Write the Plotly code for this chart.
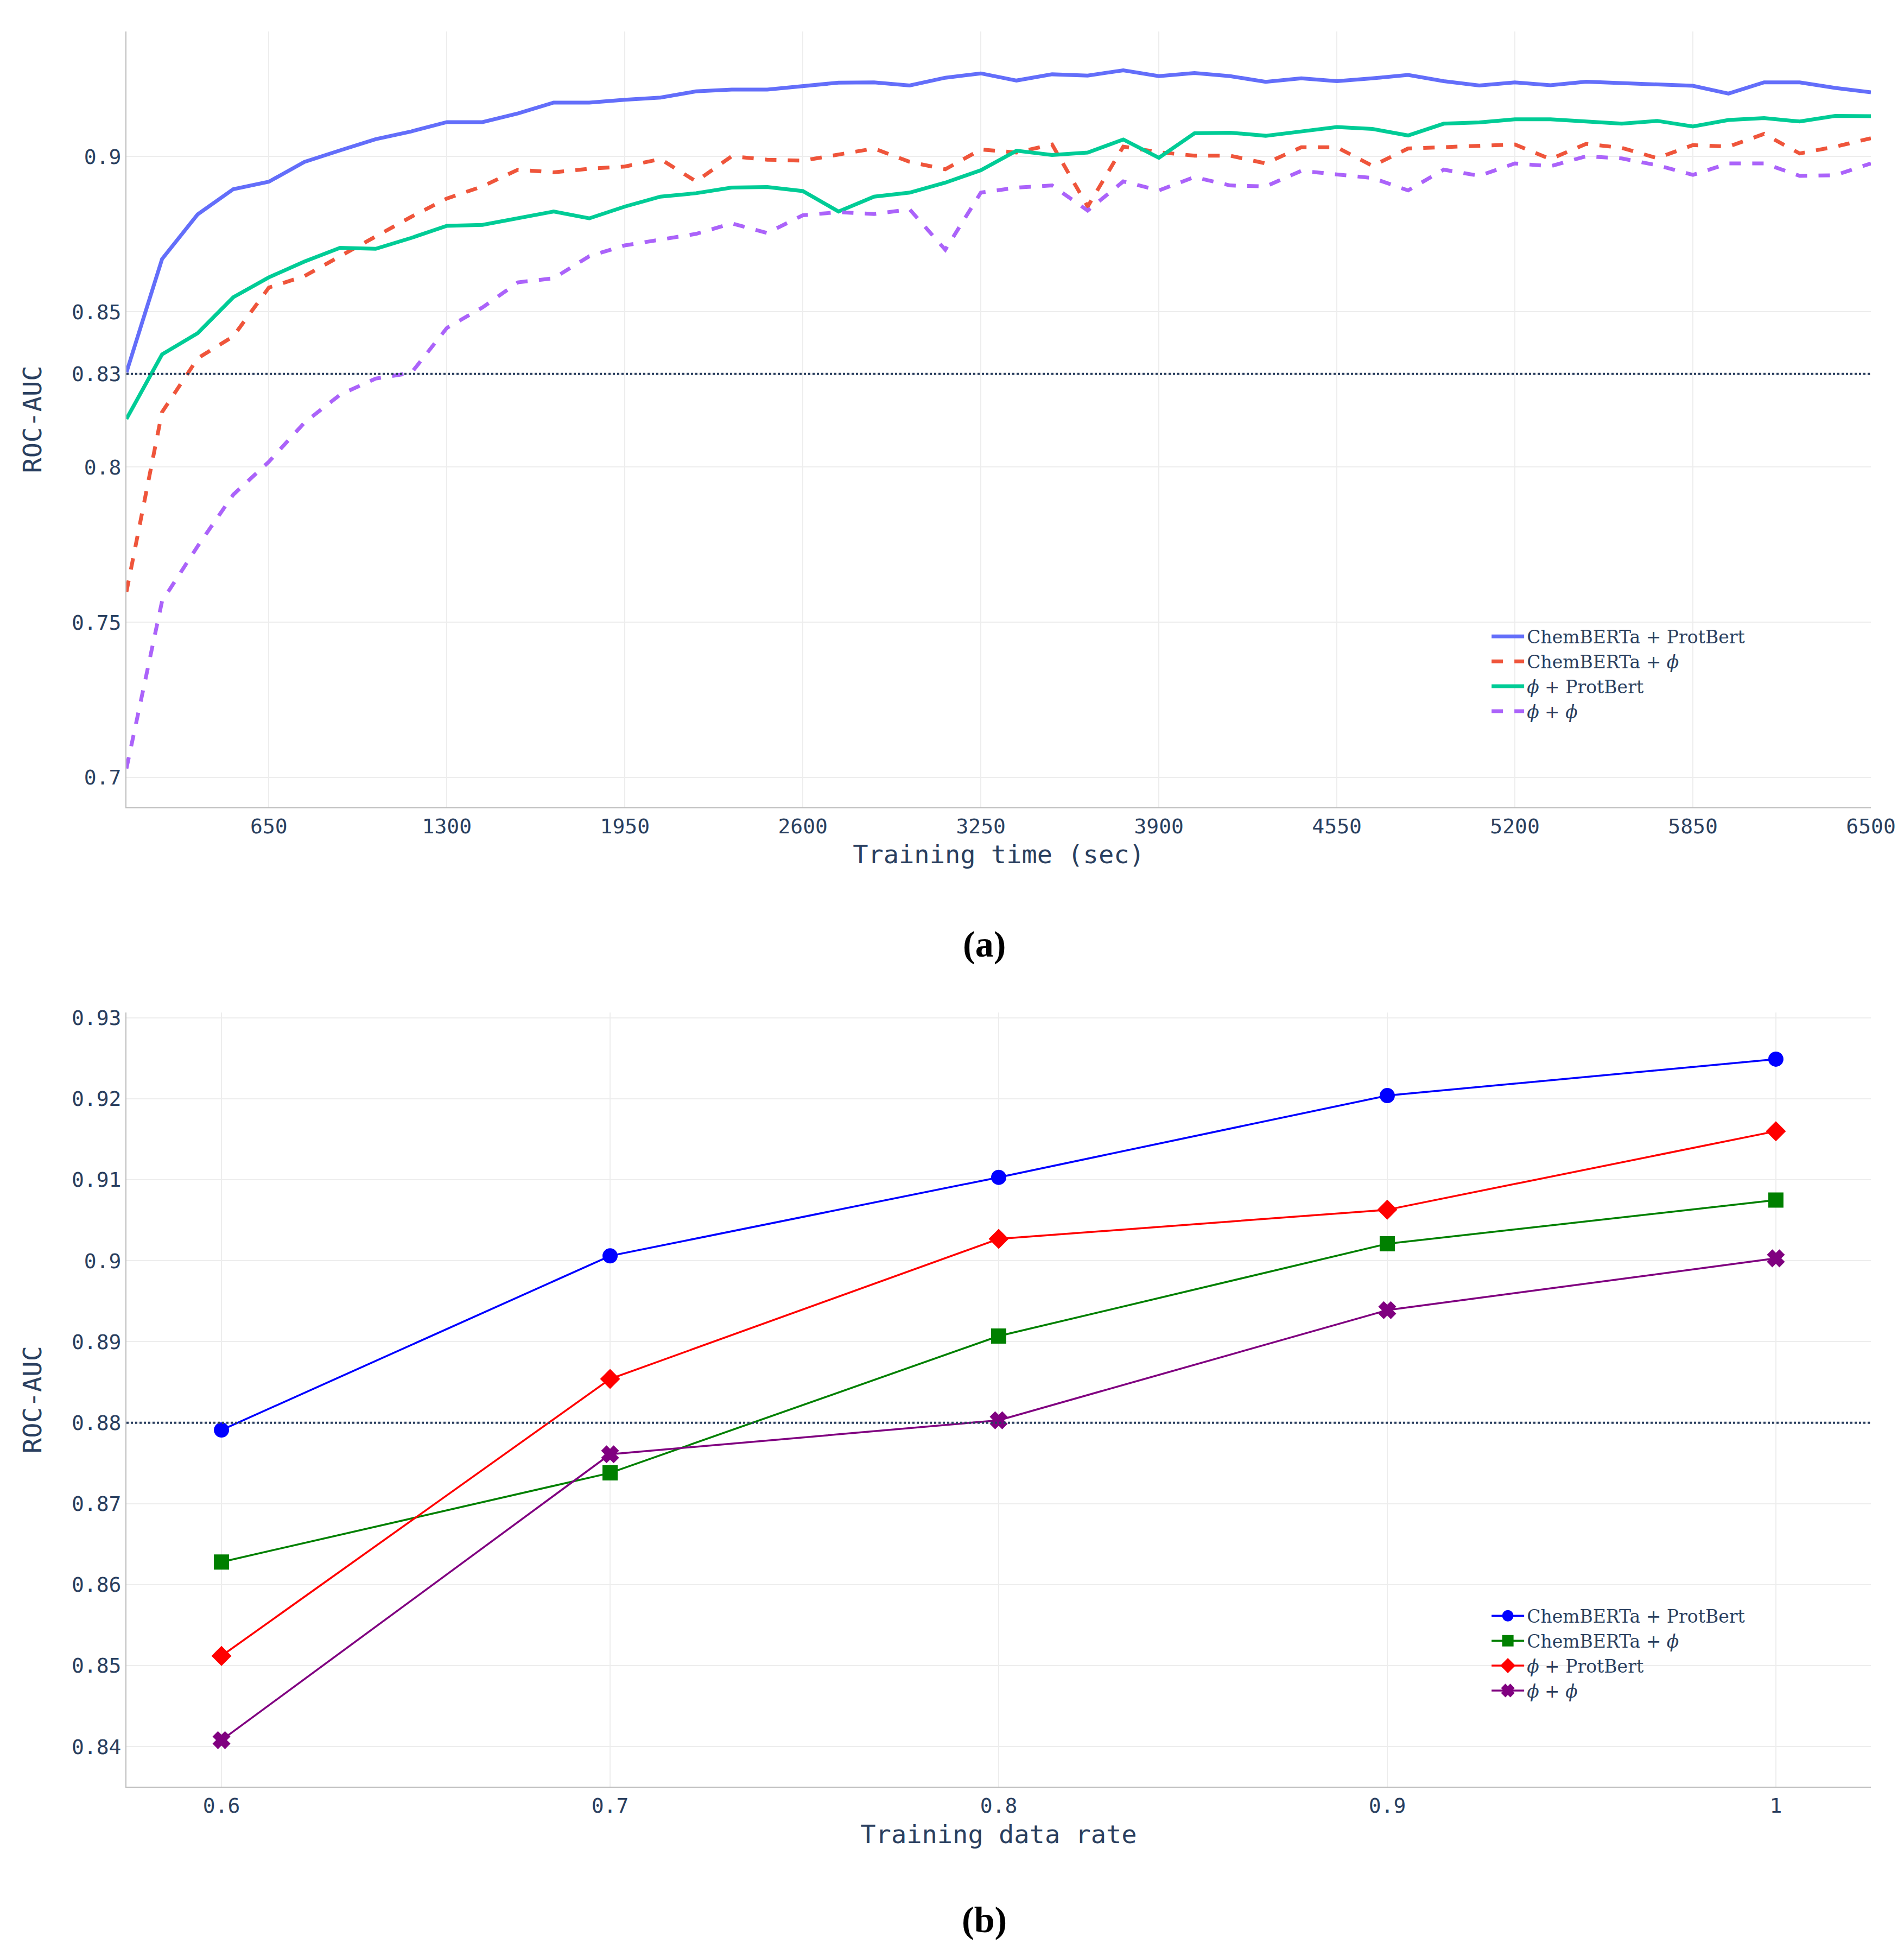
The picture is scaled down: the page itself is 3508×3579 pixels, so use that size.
import plotly.graph_objects as go
from plotly.subplots import make_subplots

# (a) ROC-AUC vs training time
time_sec=[130,260,390,520,650,780,910,1040,1170,1300,
          1430,1560,1690,1820,1950,2080,2210,2340,2470,2600,
          2730,2860,2990,3120,3250,3380,3510,3640,3770,3900,
          4030,4160,4290,4420,4550,4680,4810,4940,5070,5200,
          5330,5460,5590,5720,5850,5980,6110,6240,6370,6500]

chem_prot=[0.8305,0.867,0.8814,0.8895,0.8919,0.8983,0.902,0.9056,0.9081,0.9111,
           0.9111,0.9139,0.9174,0.9174,0.9183,0.919,0.921,0.9216,0.9216,0.9227,
           0.9238,0.9239,0.9229,0.9254,0.9268,0.9245,0.9265,0.9261,0.9278,0.9259,
           0.9269,0.9259,0.9241,0.9252,0.9243,0.9252,0.9263,0.9243,0.9229,0.9239,
           0.923,0.9241,0.9237,0.9233,0.9228,0.9203,0.9239,0.9239,0.9221,0.9207]

chem_phi=[0.7598,0.8177,0.835,0.8421,0.8578,0.8615,0.8679,0.8742,0.8806,0.8865,
          0.8904,0.8958,0.8949,0.8961,0.8968,0.8992,0.892,0.9001,0.899,0.8987,
          0.9007,0.9026,0.8983,0.8959,0.9023,0.9013,0.9039,0.8839,0.9032,0.9014,
          0.9003,0.9003,0.8978,0.903,0.903,0.897,0.9026,0.903,0.9037,0.9039,
          0.8992,0.9041,0.9028,0.8995,0.9037,0.9032,0.9073,0.901,0.9032,0.9059]

phi_prot=[0.8155,0.8363,0.8431,0.8547,0.8611,0.8662,0.8706,0.8703,0.8738,0.8777,
          0.878,0.8802,0.8823,0.8801,0.8839,0.8871,0.8882,0.89,0.8902,0.8889,
          0.8823,0.8871,0.8884,0.8916,0.8956,0.9019,0.9005,0.9013,0.9055,0.8996,
          0.9075,0.9077,0.9067,0.9081,0.9095,0.9089,0.9068,0.9106,0.911,0.912,
          0.912,0.9113,0.9106,0.9115,0.9097,0.9118,0.9124,0.9113,0.9131,0.913]

phi_phi=[0.7029,0.7568,0.7745,0.7911,0.8017,0.8143,0.8233,0.8285,0.8303,0.8448,
         0.8514,0.8595,0.8608,0.8679,0.8714,0.8732,0.8751,0.8785,0.8754,0.8811,
         0.8821,0.8815,0.883,0.87,0.8884,0.89,0.8907,0.8826,0.892,0.8891,
         0.8934,0.8907,0.8904,0.8954,0.8943,0.8931,0.8891,0.8958,0.8938,0.8978,
         0.8969,0.9001,0.8994,0.8972,0.8941,0.8978,0.8978,0.8938,0.894,0.8978]

top_yticks=[0.7,0.75,0.8,0.83,0.85,0.9]
top_yticktext=['0.7','0.75','0.8','0.83','0.85','0.9']
top_ref=0.83

# (b) ROC-AUC vs training data rate
data_rate=[0.6,0.7,0.8,0.9,1.0]
rate_chem_prot=[0.8791,0.9006,0.9103,0.9204,0.9249]
rate_chem_phi=[0.8628,0.8738,0.8907,0.9021,0.9075]
rate_phi_prot=[0.8512,0.8854,0.9027,0.9063,0.9160]
rate_phi_phi=[0.8408,0.8761,0.8803,0.8939,0.9003]
bottom_ref=0.88

names=['ChemBERTa + ProtBert','ChemBERTa + <i>ϕ</i>','<i>ϕ</i> + ProtBert','<i>ϕ</i> + <i>ϕ</i>']

fig=make_subplots(rows=2,cols=1)

top_series=[chem_prot,chem_phi,phi_prot,phi_phi]
top_colors=['#636efa','#EF553B','#00cc96','#ab63fa']
top_dash=['solid','dash','solid','dash']
for vals,name,col,dash in zip(top_series,names,top_colors,top_dash):
	fig.add_trace(go.Scatter(x=time_sec,y=vals,name=name,mode='lines',
				line=dict(color=col,width=7,dash=dash),legend='legend'),row=1,col=1)

bottom_series=[rate_chem_prot,rate_chem_phi,rate_phi_prot,rate_phi_phi]
bottom_colors=['blue','green','red','purple']
bottom_symbols=['circle','square','diamond','x']
# outline in the same colour so the legend symbols come out bigger too
for vals,name,col,sym in zip(bottom_series,names,bottom_colors,bottom_symbols):
	fig.add_trace(go.Scatter(x=data_rate,y=vals,name=name,mode='lines+markers',
				line=dict(color=col,width=3.5),
				marker=dict(symbol=sym,size=23,color=col,line=dict(color=col,width=5)),
				legend='legend2'),row=2,col=1)

fig.add_hline(y=top_ref,line_dash='dot',line_color='#2a3f5f',line_width=4,row=1,col=1)
fig.add_hline(y=bottom_ref,line_dash='dot',line_color='#2a3f5f',line_width=4,row=2,col=1)

axis_style=dict(showline=True,linecolor='#bdbdbd',linewidth=2,
				showgrid=True,gridcolor='#ededed',gridwidth=2,zeroline=False,
				tickfont=dict(size=38),title_font=dict(size=47),ticks='')

fig.update_xaxes(axis_style)
fig.update_yaxes(axis_style)

fig.update_xaxes(title_text='Training time (sec)',tick0=0,dtick=650,domain=[0,1],row=1,col=1)
fig.update_yaxes(title_text='ROC-AUC',title_standoff=40,tickmode='array',tickvals=top_yticks,
				ticktext=top_yticktext,domain=[0.558,1],row=1,col=1)
fig.update_xaxes(title_text='Training data rate',tick0=0.6,dtick=0.1,domain=[0,1],row=2,col=1)
fig.update_yaxes(title_text='ROC-AUC',title_standoff=40,dtick=0.01,domain=[0,0.441],row=2,col=1)

legend_style=dict(font=dict(family='DejaVu Serif',size=33,color='#2a3f5f'),
				bgcolor='rgba(0,0,0,0)',xanchor='left',yanchor='top',
				tracegroupgap=0,itemwidth=60)

fig.update_layout(template='plotly_white',
				width=3508,height=3579,
				margin=dict(l=225,r=69,t=50,b=296),
				font=dict(family='DejaVu Sans Mono',color='#2a3f5f'),
				plot_bgcolor='white',paper_bgcolor='white',
				legend=dict(legend_style,x=0.781,y=0.664),
				legend2=dict(legend_style,x=0.781,y=0.106),
				showlegend=True)

# sub-figure captions
for label,ypos in [('<b>(a)</b>',0.480),('<b>(b)</b>',-0.088)]:
	fig.add_annotation(text=label,xref='paper',yref='paper',x=0.4916,y=ypos,
				showarrow=False,font=dict(family='Liberation Serif',size=68,color='black'))

fig.write_html('out.html')
